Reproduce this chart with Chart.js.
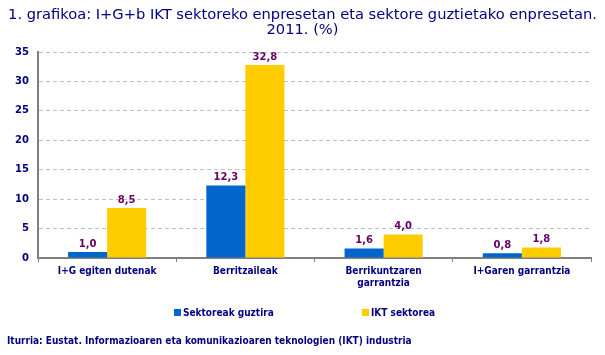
<!DOCTYPE html>
<html><head><meta charset="utf-8">
<script src="https://cdn.jsdelivr.net/npm/chart.js@4"></script>
<style>html,body{margin:0;padding:0;background:#fff}#wrap{width:605px;height:355px;position:relative}</style>
</head><body><div id="wrap"><canvas id="c" width="605" height="355"></canvas></div>
<script>
const titleLines = ["1. grafikoa: I+G+b IKT sektoreko enpresetan eta sektore guztietako enpresetan.", "2011. (%)"];
const categories = [["I+G egiten dutenak"], ["Berritzaileak"], ["Berrikuntzaren", "garrantzia"], ["I+Garen garrantzia"]];
const seriesNames = ["Sektoreak guztira", "IKT sektorea"];
const sektoreakGuztira = [1.0, 12.3, 1.6, 0.8];
const iktSektorea = [8.5, 32.8, 4.0, 1.8];
const yTicks = [0, 5, 10, 15, 20, 25, 30, 35];
const sourceText = "Iturria: Eustat. Informazioaren eta komunikazioaren teknologien (IKT) industria";

const NAVY = '#000080', PURPLE = '#660066';
const SMALL = 'DejaVu Sans Condensed';

const extras = {
  id: 'extras',
  afterDatasetsDraw(chart) {
    const ctx = chart.ctx;
    ctx.save();
    ctx.font = 'bold 10px "DejaVu Sans"';
    ctx.fillStyle = PURPLE;
    ctx.textAlign = 'center';
    ctx.textBaseline = 'bottom';
    chart.data.datasets.forEach((ds, i) => {
      chart.getDatasetMeta(i).data.forEach((bar, j) => {
        ctx.fillText(ds.data[j].toFixed(1).replace('.', ','), bar.x, bar.y - 3);
      });
    });
    ctx.restore();
  },
  afterDraw(chart) {
    const ctx = chart.ctx;
    ctx.save();
    // title, fitted to the reference width
    ctx.fillStyle = NAVY;
    ctx.textAlign = 'center';
    ctx.textBaseline = 'middle';
    ctx.font = '13px "DejaVu Sans"';
    const w = ctx.measureText(titleLines[0]).width;
    const size = Math.min(15, 13 * 589 / w);
    ctx.font = size.toFixed(2) + 'px "DejaVu Sans"';
    ctx.fillText(titleLines[0], 302.5, 15);
    ctx.fillText(titleLines[1], 302.5, 30);
    // legend
    const legendX = [174, 362];
    ctx.textAlign = 'left';
    ctx.font = 'bold 10px "' + SMALL + '"';
    chart.data.datasets.forEach((ds, i) => {
      ctx.fillStyle = ds.backgroundColor;
      ctx.fillRect(legendX[i], 309, 7, 7);
      ctx.fillStyle = NAVY;
      ctx.fillText(ds.label, legendX[i] + 9, 313);
    });
    // source
    ctx.fillText(sourceText, 7, 341);
    ctx.restore();
  }
};

new Chart(document.getElementById('c'), {
  type: 'bar',
  data: {
    labels: categories,
    datasets: [
      { label: seriesNames[0], data: sektoreakGuztira, backgroundColor: '#0066CC' },
      { label: seriesNames[1], data: iktSektorea, backgroundColor: '#FFCC00' }
    ]
  },
  plugins: [extras],
  options: {
    responsive: false,
    animation: false,
    devicePixelRatio: 1,
    layout: { padding: { top: 52, left: 0, right: 14, bottom: 0 } },
    plugins: { legend: { display: false }, title: { display: false }, tooltip: { enabled: false } },
    datasets: { bar: { categoryPercentage: 0.565, barPercentage: 1.0 } },
    scales: {
      x: {
        grid: { offset: true, drawOnChartArea: false, color: '#808080', tickLength: 4 },
        border: { color: '#808080', width: 2 },
        ticks: { color: NAVY, font: { family: SMALL, weight: 'bold', size: 10 }, padding: 3, maxRotation: 0, autoSkip: false },
        afterFit(s) { s.height = 97; }
      },
      y: {
        min: 0, max: 35,
        afterBuildTicks(s) { s.ticks = yTicks.map(v => ({ value: v })); },
        grid: { color: '#C0C0C0', drawTicks: false },
        border: { color: '#808080', width: 2, dash: [4, 3] },
        ticks: { color: NAVY, font: { family: 'DejaVu Sans', weight: 'bold', size: 10 }, padding: 9 },
        afterFit(s) { s.width = 38; }
      }
    }
  }
});
</script></body></html>
